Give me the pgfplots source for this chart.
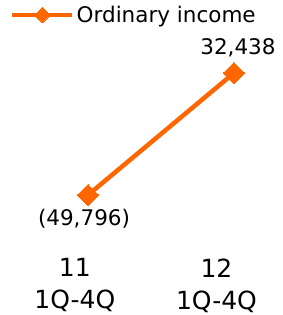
\documentclass[border=0pt]{standalone}
\usepackage{fontspec}
\setmainfont{DejaVu Sans}
\usepackage{pgfplots}
\pgfplotsset{compat=1.18}
\definecolor{ora}{HTML}{FF6600}
\begin{document}
\begin{tikzpicture}
\path[use as bounding box] (0,0) rectangle (282pt,315pt);
\begin{axis}[
  at={(0pt,85pt)}, anchor=south west,
  scale only axis, width=282pt, height=200pt,
  xmin=-0.603, xmax=1.329, ymin=-73387, ymax=61421,
  axis line style={draw=none},
  ymajorticks=false,
  major tick length=0pt,
  xtick={-0.09,0.88},
  xticklabels={{11\\1Q-4Q},{12\\1Q-4Q}},
  xticklabel style={align=center, font=\fontsize{25}{32}\selectfont, yshift=-25pt},
  clip=false,
  legend style={at={(0.0355,1.075)}, anchor=west, draw=none, fill=none, inner sep=0pt,
    font=\fontsize{21.5}{24}\selectfont, nodes={inner sep=2pt}},
  legend image code/.code={\draw[mark repeat=2,mark phase=2,#1,mark size=5.5pt] plot coordinates {(0pt,0pt)(30pt,0pt)(60pt,0pt)};},
]
\addplot[color=ora, line width=4.5pt, mark=square*, mark size=7.5pt, mark options={rotate=45, line width=0pt}]
  coordinates {(0,-49796) (1,32438)};
\addlegendentry{Ordinary income}
\node[font=\fontsize{21.5}{24}\selectfont] at (axis cs:0,-49796) [yshift=-24pt, xshift=-4pt] {(49,796)};
\node[font=\fontsize{21.5}{24}\selectfont] at (axis cs:1,32438) [yshift=25pt, xshift=4pt] {32,438};
\end{axis}
\end{tikzpicture}
\end{document}
